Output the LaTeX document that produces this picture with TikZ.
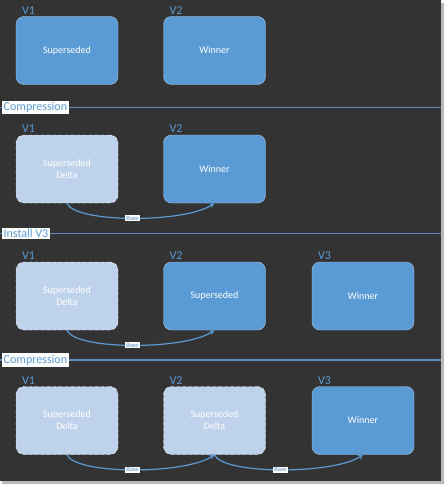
\documentclass[tikz,border=0pt]{standalone}
\usepackage{fontspec}
\setmainfont{Carlito}
\usetikzlibrary{positioning}
\definecolor{bgdark}{HTML}{333333}
\definecolor{boxblue}{HTML}{5B9BD5}
\definecolor{boxpale}{HTML}{BFD2EC}
\definecolor{rimblue}{HTML}{A9C8E8}
\definecolor{lineblue}{HTML}{5E8CC4}
\begin{document}
\begin{tikzpicture}[x=1pt, y=-1pt, >=stealth,
    every node/.style={font=\fontsize{10}{12}\selectfont, text=white, align=center},
    winbox/.style={rectangle, rounded corners=8pt, draw=rimblue, fill=boxblue, minimum width=102pt, minimum height=68pt},
    deltabox/.style={winbox, fill=boxpale, draw=white, dashed},
    ver/.style={font=\fontsize{12}{13}\selectfont, text=boxblue, inner sep=0pt},
    phase/.style={font=\fontsize{12}{14}\selectfont, text=boxblue, fill=white, inner sep=1.5pt, anchor=west},
    base/.style={font=\fontsize{6.5}{7}\selectfont, text=lineblue, fill=white, inner sep=1pt},
    rule/.style={lineblue, line width=1.3pt},
    link/.style={->, boxblue, line width=1.2pt}]
        \useasboundingbox (0,0) rectangle (447,487);
        % frame
        \fill[white] (0,0) rectangle (447,487);
        \fill[gray!55] (2,3) rectangle (444,484);
        \fill[bgdark] (0,0) rectangle (441,481);

        % before compression
        \node[winbox] (a1) at (67,50.5) {Superseded};
        \node[winbox] (a2) at (214.5,50.5) {Winner};
        \node[ver, above right=2pt and 6pt of a1.north west] (va1) {V1};
        \node[ver, above right=2pt and 6pt of a2.north west] (va2) {V2};

        \coordinate (s1) at (0,107.5);
        \coordinate (e1) at (441,107.5);
        \draw[rule] (s1) -- (e1);
        \node[phase] (p1) at (2,107.5) {Compression};

        % after compression
        \node[deltabox] (b1) at (67,169) {Superseded\\Delta};
        \node[winbox] (b2) at (214.5,169) {Winner};
        \node[ver, above right=2pt and 6pt of b1.north west] (vb1) {V1};
        \node[ver, above right=2pt and 6pt of b2.north west] (vb2) {V2};
        \draw[link] (b1.south) .. controls +(8,20) and +(-30,20) .. node[base] (bb1) {Base} (b2.south);

        \coordinate (s2) at (0,233.5);
        \coordinate (e2) at (441,233.5);
        \draw[rule] (s2) -- (e2);
        \node[phase] (p2) at (2,233.5) {Install V3};

        % V3 installed
        \node[deltabox] (c1) at (67,296) {Superseded\\Delta};
        \node[winbox] (c2) at (214.5,296) {Superseded};
        \node[winbox] (c3) at (363,296) {Winner};
        \node[ver, above right=2pt and 6pt of c1.north west] (vc1) {V1};
        \node[ver, above right=2pt and 6pt of c2.north west] (vc2) {V2};
        \node[ver, above right=2pt and 6pt of c3.north west] (vc3) {V3};
        \draw[link] (c1.south) .. controls +(8,20) and +(-30,20) .. node[base] (bc1) {Base} (c2.south);

        \coordinate (s3) at (0,360);
        \coordinate (e3) at (441,360);
        \draw[rule] (s3) -- (e3);
        \node[phase] (p3) at (2,360) {Compression};

        % compressed again
        \node[deltabox] (d1) at (67,420.5) {Superseded\\Delta};
        \node[deltabox] (d2) at (214.5,420.5) {Superseded\\Delta};
        \node[winbox] (d3) at (363,420.5) {Winner};
        \node[ver, above right=2pt and 6pt of d1.north west] (vd1) {V1};
        \node[ver, above right=2pt and 6pt of d2.north west] (vd2) {V2};
        \node[ver, above right=2pt and 6pt of d3.north west] (vd3) {V3};
        \draw[link] (d1.south) .. controls +(8,20) and +(-30,20) .. node[base] (bd1) {Base} (d2.south);
        \draw[link] (d2.south) .. controls +(8,20) and +(-30,20) .. node[base] (bd2) {Base} (d3.south);
\end{tikzpicture}
\end{document}
